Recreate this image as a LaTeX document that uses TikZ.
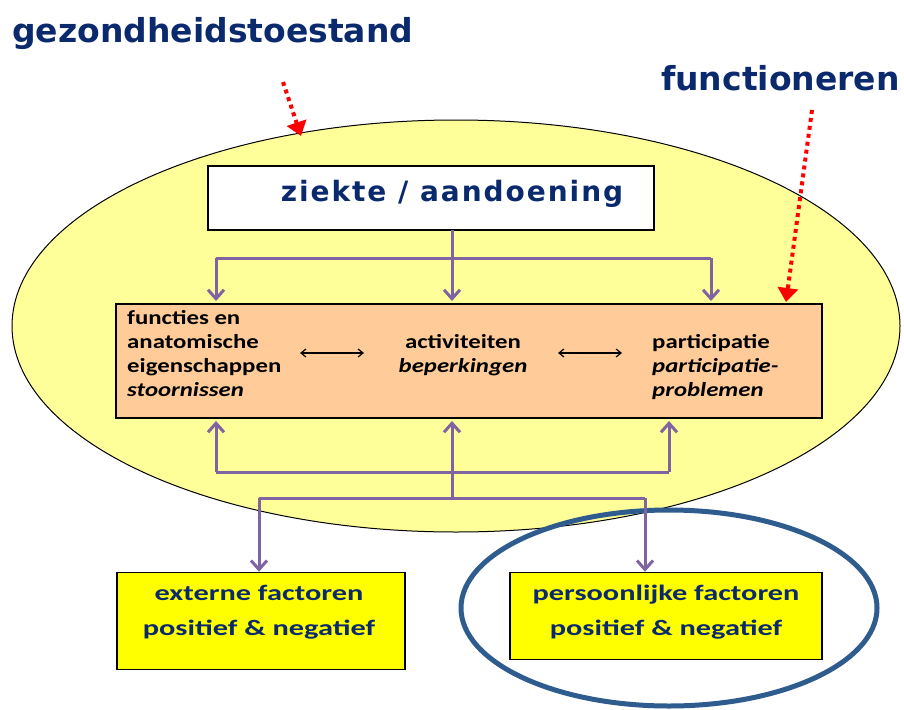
\documentclass[tikz,border=0pt]{standalone}
\usepackage{fontspec}
\setmainfont{Carlito}
\newfontfamily\headfont{DejaVu Sans}
\newfontfamily\ziekfont[LetterSpace=7]{DejaVu Sans}
\newfontfamily\icffont[FakeStretch=1.24]{Carlito}
\newfontfamily\factfont[FakeStretch=1.38]{Carlito}
\usetikzlibrary{arrows.meta,shapes.geometric}
\definecolor{navy}{HTML}{0B2A6E}
\definecolor{ellyellow}{HTML}{FFFF99}
\definecolor{peach}{HTML}{FFCC99}
\definecolor{boxyellow}{HTML}{FFFF00}
\definecolor{purp}{HTML}{8064A2}
\definecolor{ringblue}{HTML}{2E5C8E}
\tikzset{
  headtxt/.style={font=\headfont\bfseries\fontsize{33}{38}\selectfont, text=navy, inner sep=0pt},
  redarrow/.style={draw=red, line width=4pt, dash pattern=on 4pt off 4pt, -{Triangle[length=14pt,width=20pt,fill=red]}},
  purparrow/.style={draw=purp, line width=3pt, -{Straight Barb[length=9pt,width=16pt,line width=3pt]}},
  purpline/.style={draw=purp, line width=3pt},
  factbox/.style={draw=black, line width=1.5pt, fill=boxyellow, inner sep=0pt},
  facttxt/.style={font=\factfont\bfseries\fontsize{22}{35}\selectfont, text=navy, align=center, inner sep=0pt},
  icftxt/.style={font=\icffont\bfseries\fontsize{20}{24}\selectfont, text=black, inner sep=0pt},
  dblarrow/.style={draw=black, line width=1.2pt, {Straight Barb[length=5pt,width=8pt]}-{Straight Barb[length=5pt,width=8pt]}}
}
\begin{document}
\begin{tikzpicture}[x=1pt,y=-1pt]
\useasboundingbox (0,0) rectangle (904,709);
% main ellipse
\node[ellipse, draw=black, line width=1pt, fill=ellyellow, minimum width=888pt, minimum height=412pt, inner sep=0pt] (ell) at (456,326) {};
% blue ring
\node[ellipse, draw=ringblue, line width=5pt, minimum width=416pt, minimum height=196pt, inner sep=0pt] (ring) at (669,608) {};
% titles
\node[headtxt, anchor=base west] (gez) at (12,42) {gezondheidstoestand};
\node[headtxt, anchor=base east] (fun) at (900,90) {functioneren};
% ziekte box
\node[draw=black, line width=2pt, fill=white, minimum width=446pt, minimum height=64pt, inner sep=0pt] (ziek) at (431,198) {};
\node[font=\ziekfont\bfseries\fontsize{28}{32}\selectfont, text=navy, inner sep=0pt, anchor=base] (ziektxt) at (452,201) {ziekte / aandoening};
% orange box
\node[draw=black, line width=1.5pt, fill=peach, minimum width=706pt, minimum height=114pt, inner sep=0pt] (icf) at (469,361) {};
\node[icftxt, align=left, anchor=north west] (func) at (127,310) {functies en\\anatomische\\eigenschappen\\\textit{stoornissen}};
\node[icftxt, align=center, anchor=north] (act) at (463,334) {activiteiten\\\textit{beperkingen}};
\node[icftxt, align=left, anchor=north west] (part) at (652,334) {participatie\\\textit{participatie-}\\\textit{problemen}};
\coordinate (d1a) at (300,353); \coordinate (d1b) at (364,353);
\coordinate (d2a) at (558,353); \coordinate (d2b) at (622,353);
\draw[dblarrow] (d1a) -- (d1b);
\draw[dblarrow] (d2a) -- (d2b);
% factor boxes
\node[factbox, minimum width=288pt, minimum height=97pt] (ext) at (261,621) {};
\node[facttxt] (exttxt) at (259,612) {externe factoren\\positief \& negatief};
\node[factbox, minimum width=312pt, minimum height=87pt] (pers) at (666,616) {};
\node[facttxt] (perstxt) at (666,612) {persoonlijke factoren\\positief \& negatief};
% purple connectors top
\coordinate (zb) at (452,230);
\coordinate (tl) at (216,258); \coordinate (tr) at (711,258); \coordinate (tc) at (452,258);
\coordinate (al) at (216,301); \coordinate (ac) at (452,301); \coordinate (ar) at (711,301);
\draw[purparrow] (zb) -- (ac);
\draw[purpline] (tl) -- (tr);
\draw[purparrow] (tl) -- (al);
\draw[purparrow] (tr) -- (ar);
% purple connectors bottom
\coordinate (bl) at (216,472); \coordinate (bc) at (452,472); \coordinate (br) at (669,472);
\coordinate (ul) at (216,421); \coordinate (uc) at (452,421); \coordinate (ur) at (669,421);
\coordinate (hc) at (452,498); \coordinate (hl) at (259,498); \coordinate (hr) at (645,498);
\draw[purpline] (bl) -- (br);
\draw[purparrow] (bl) -- (ul);
\draw[purparrow] (br) -- (ur);
\draw[purparrow] (hc) -- (uc);
\draw[purpline] (hl) -- (hr);
\draw[purparrow] (hl) -- (ext.north -| hl);
\draw[purparrow] (hr) -- (pers.north -| hr);
% red dotted arrows
\coordinate (r1a) at (283,82); \coordinate (r1b) at (301,136);
\coordinate (r2a) at (812,110); \coordinate (r2b) at (786,302);
\draw[redarrow] (r1a) -- (r1b);
\draw[redarrow] (r2a) -- (r2b);
\end{tikzpicture}
\end{document}
